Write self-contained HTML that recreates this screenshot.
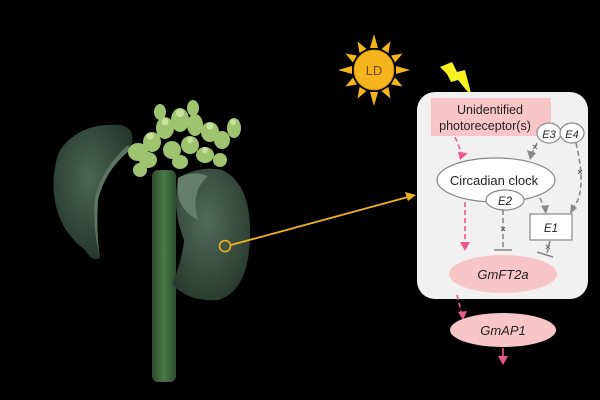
<!DOCTYPE html>
<html><head><style>
body{margin:0;background:#000;width:600px;height:400px;overflow:hidden}
svg{display:block}
text{font-family:"Liberation Sans",sans-serif}
</style></head><body>
<svg width="600" height="400" viewBox="0 0 600 400">
<defs>
<radialGradient id="lf" cx="45%" cy="40%" r="70%"><stop offset="0" stop-color="#4a6656"/><stop offset="1" stop-color="#1e2f26"/></radialGradient>
<radialGradient id="lf2" cx="45%" cy="40%" r="70%"><stop offset="0" stop-color="#506b5c"/><stop offset="1" stop-color="#243629"/></radialGradient>
<linearGradient id="st" x1="0" x2="1"><stop offset="0" stop-color="#2b4a2c"/><stop offset="0.5" stop-color="#4a7a48"/><stop offset="1" stop-color="#2b4a2c"/></linearGradient>
</defs>
<rect width="600" height="400" fill="#000"/>
<!-- stem -->
<rect x="152" y="170" width="24" height="212" rx="6" fill="url(#st)"/>
<!-- left leaf -->
<path d="M60 150 Q80 122 120 125 Q138 128 130 150 Q105 170 98 200 Q96 235 100 258 Q92 262 85 250 Q58 230 54 195 Q52 168 60 150Z" fill="url(#lf)"/>
<path d="M130 150 Q105 170 98 200 Q96 235 100 258 Q92 225 95 198 Q102 168 128 145Z" fill="#5c7565"/>
<!-- right leaf -->
<path d="M178 178 Q200 165 222 170 Q248 182 250 225 Q252 290 218 300 Q188 302 172 284 Q182 262 184 240 Q172 210 178 178Z" fill="url(#lf2)"/>
<path d="M178 178 Q192 170 208 176 Q190 192 198 220 Q180 210 178 195Z" fill="#647f6d"/>
<!-- flowers -->
<g fill="#9ec46f">
<ellipse cx="138" cy="152" rx="10" ry="9"/><ellipse cx="152" cy="142" rx="9" ry="10"/>
<ellipse cx="148" cy="160" rx="9" ry="8"/><ellipse cx="140" cy="170" rx="7" ry="7"/>
<ellipse cx="165" cy="128" rx="9" ry="11"/><ellipse cx="180" cy="120" rx="9" ry="12"/>
<ellipse cx="195" cy="125" rx="8" ry="11"/><ellipse cx="210" cy="132" rx="9" ry="10"/>
<ellipse cx="222" cy="140" rx="8" ry="9"/><ellipse cx="234" cy="128" rx="7" ry="10"/>
<ellipse cx="172" cy="150" rx="9" ry="9"/><ellipse cx="190" cy="145" rx="9" ry="9"/>
<ellipse cx="205" cy="155" rx="9" ry="8"/><ellipse cx="220" cy="160" rx="7" ry="7"/>
<ellipse cx="180" cy="162" rx="8" ry="7"/><ellipse cx="160" cy="112" rx="6" ry="8"/>
<ellipse cx="193" cy="108" rx="6" ry="8"/>
</g>
<g fill="#c8e39e"><circle cx="180" cy="113" r="4"/><circle cx="165" cy="122" r="3.5"/><circle cx="210" cy="126" r="3.5"/><circle cx="233" cy="122" r="3"/><circle cx="150" cy="136" r="3.5"/><circle cx="190" cy="140" r="3"/><circle cx="205" cy="150" r="3"/></g>
<!-- yellow pointer -->
<circle cx="225" cy="246" r="5.5" fill="none" stroke="#f0b020" stroke-width="1.6"/>
<line x1="231" y1="245" x2="408" y2="197" stroke="#f0b020" stroke-width="1.8"/>
<polygon points="416,195 405,192 408,201" fill="#f0b020"/>
<!-- sun -->
<g fill="#f5b51c">
<circle cx="374" cy="70" r="20"/>
<g transform="translate(374 70)">
<polygon points="-4,-22 4,-22 0,-36"/><polygon points="-4,22 4,22 0,36"/>
<polygon points="-22,-4 -22,4 -36,0"/><polygon points="22,-4 22,4 36,0"/>
<g transform="rotate(30)"><polygon points="-4,-22 4,-22 0,-33"/><polygon points="-4,22 4,22 0,33"/><polygon points="-22,-4 -22,4 -33,0"/><polygon points="22,-4 22,4 33,0"/></g>
<g transform="rotate(60)"><polygon points="-4,-22 4,-22 0,-33"/><polygon points="-4,22 4,22 0,33"/><polygon points="-22,-4 -22,4 -33,0"/><polygon points="22,-4 22,4 33,0"/></g>
</g></g>
<circle cx="374" cy="70" r="20" fill="none" stroke="#c48a10" stroke-width="0.8"/>
<text x="374" y="75" font-size="13" text-anchor="middle" fill="#6a4a10">LD</text>
<!-- lightning -->
<polygon points="440,67 452,62 457,72 465,70 472,97 458,80 451,82 447,74" fill="#f7f220"/>
<!-- box -->
<rect x="417" y="92" width="171" height="207" rx="18" fill="#f1f1f1"/>
<rect x="431" y="98" width="120" height="38" fill="#f9c6c8"/>
<text x="490" y="114" font-size="12.5" text-anchor="middle" fill="#222">Unidentified</text>
<text x="485" y="130" font-size="12.5" text-anchor="middle" fill="#222">photoreceptor(s)</text>
<!-- arrows -->
<g fill="none" stroke-width="1.6" stroke-dasharray="5,3">
<path d="M455 137 L463 156" stroke="#e85a92"/>
<path d="M465 202 L465 245" stroke="#e85a92"/>
<path d="M457 295 L462 315" stroke="#e85a92"/>
<path d="M537 143 L531 155" stroke="#888"/>
<path d="M576 143 Q585 180 578 200 L572 210" stroke="#888"/>
<path d="M540 198 L545 210" stroke="#888"/>
<path d="M503 210 L503 249" stroke="#888"/>
<path d="M550 241 L547 253" stroke="#888"/>
</g>
<g stroke="#888" stroke-width="1.6"><line x1="494" y1="250" x2="512" y2="250"/><line x1="537" y1="252" x2="553" y2="257"/></g>
<g fill="#e85a92"><polygon points="460,160 468,153 458,152"/><polygon points="465,251 460,242 470,242"/><polygon points="463,320 458,312 467,311"/></g>
<g fill="#888"><polygon points="530,160 527,150 536,153"/><polygon points="570,214 571,204 577,208"/><polygon points="546,214 541,206 549,205"/></g>
<g stroke="#666" stroke-width="1"><path d="M533 145 l4 4 M537 145 l-4 4"/><path d="M578 170 l4 4 M582 170 l-4 4"/><path d="M501 227 l4 4 M505 227 l-4 4"/><path d="M546 245 l4 4 M550 245 l-4 4"/></g>
<!-- nodes -->
<ellipse cx="496" cy="180" rx="59" ry="22" fill="#fff" stroke="#888" stroke-width="1.2"/>
<text x="494" y="185" font-size="13" text-anchor="middle" fill="#222">Circadian clock</text>
<ellipse cx="505" cy="200" rx="19" ry="10" fill="#fff" stroke="#888" stroke-width="1.2"/>
<text x="505" y="205" font-size="11.5" font-style="italic" text-anchor="middle" fill="#222">E2</text>
<ellipse cx="549" cy="133" rx="12" ry="10" fill="#fff" stroke="#888" stroke-width="1.2"/>
<text x="549" y="138" font-size="11" font-style="italic" text-anchor="middle" fill="#222">E3</text>
<ellipse cx="572" cy="133" rx="12" ry="10" fill="#fff" stroke="#888" stroke-width="1.2"/>
<text x="572" y="138" font-size="11" font-style="italic" text-anchor="middle" fill="#222">E4</text>
<rect x="530" y="214" width="42" height="26" fill="#fff" stroke="#888" stroke-width="1.2"/>
<text x="551" y="232" font-size="11.5" font-style="italic" text-anchor="middle" fill="#222">E1</text>
<ellipse cx="503" cy="274" rx="54" ry="19" fill="#f9c6c8"/>
<text x="503" y="279" font-size="13" font-style="italic" text-anchor="middle" fill="#222">GmFT2a</text>
<ellipse cx="503" cy="330" rx="53" ry="17" fill="#f9c6c8"/>
<text x="503" y="335" font-size="13" font-style="italic" text-anchor="middle" fill="#222">GmAP1</text>
<line x1="503" y1="348" x2="503" y2="358" stroke="#e85a92" stroke-width="1.6"/>
<polygon points="503,365 498,356 508,356" fill="#e85a92"/>
</svg>
</body></html>
